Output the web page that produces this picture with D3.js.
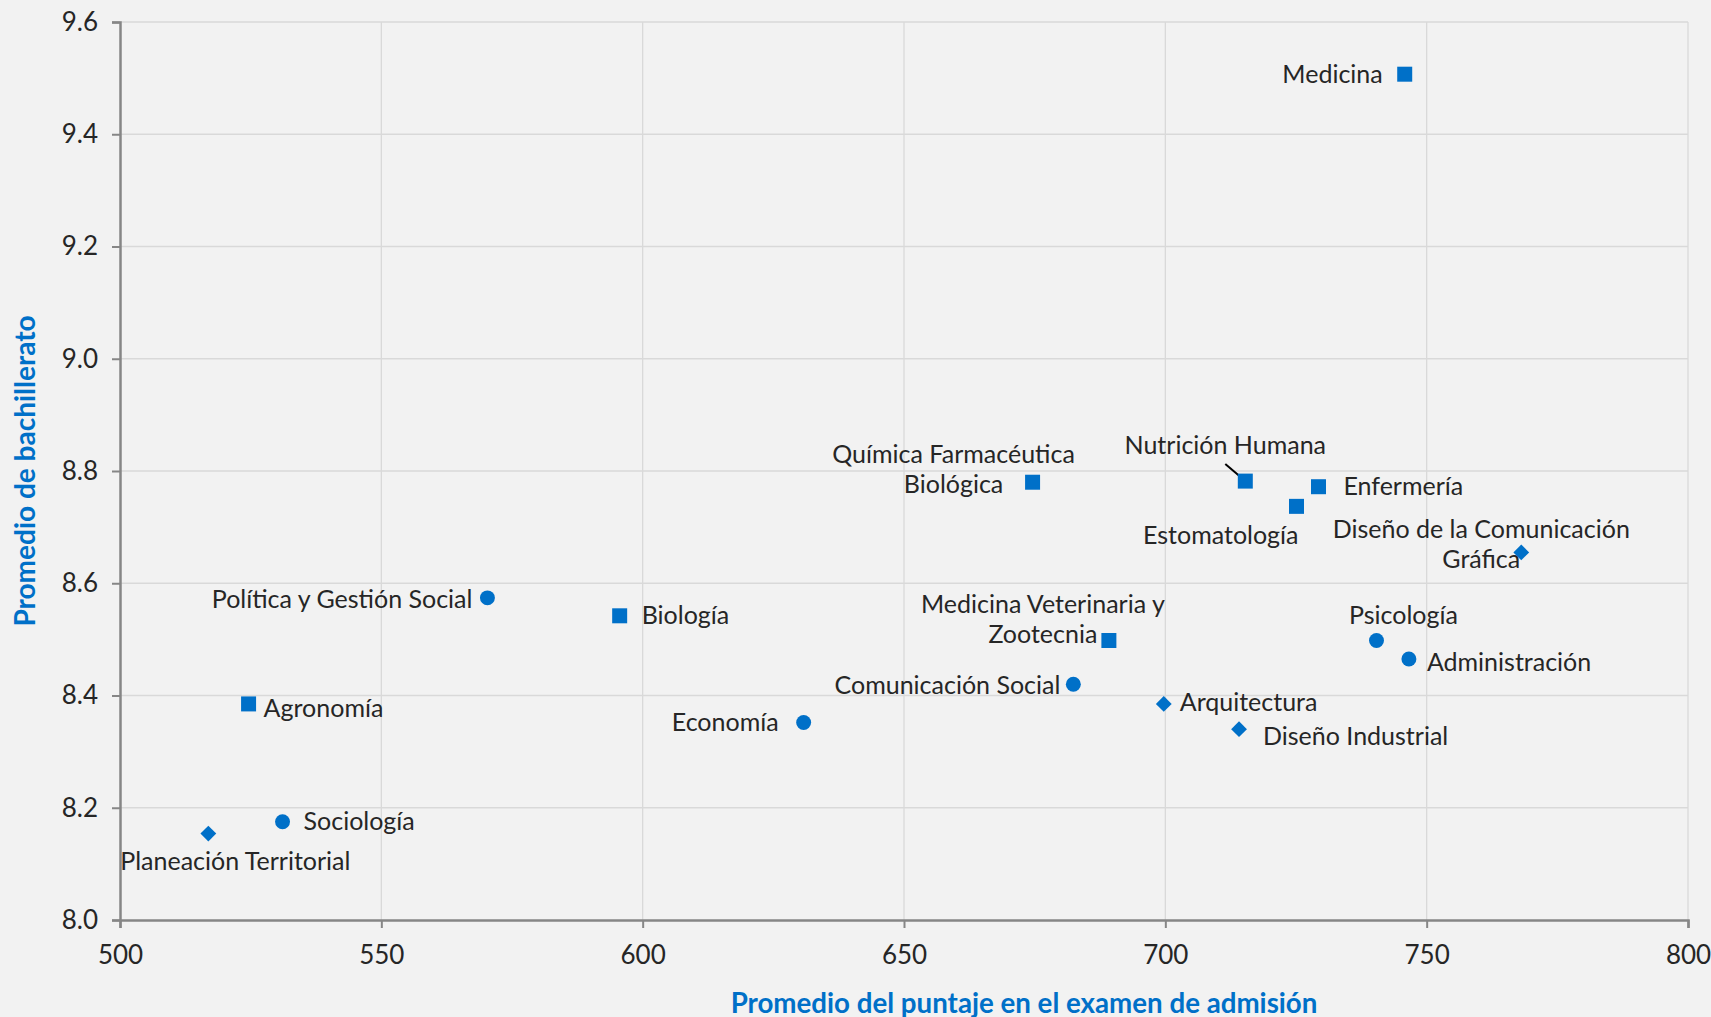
<!DOCTYPE html>
<html>
<head>
<meta charset="utf-8">
<script src="https://cdn.jsdelivr.net/npm/d3@7"></script>
<style>
    html, body { margin: 0; padding: 0; background: #f2f2f2; }
    svg { display: block; }
    text { font-family: Lato, "Open Sans", sans-serif; }
</style>
</head>
<body>
<div class="visualizer"></div>
<script>
// Data: three groups of degree programmes (square, circle, diamond markers)
const squareNames = ["Medicina", "Nutrición Humana", "Enfermería", "Estomatología",
    "Química Farmacéutica Biológica", "Biología", "Medicina Veterinaria y Zootecnia", "Agronomía"];
const squareX = [745.8, 715.3, 729.3, 725.1, 674.6, 595.6, 689.2, 524.6];
const squareY = [9.507, 8.782, 8.772, 8.737, 8.780, 8.542, 8.498, 8.385];

const circleNames = ["Política y Gestión Social", "Psicología", "Administración",
    "Comunicación Social", "Economía", "Sociología"];
const circleX = [570.3, 740.4, 746.6, 682.4, 630.8, 531.1];
const circleY = [8.574, 8.498, 8.465, 8.420, 8.352, 8.175];

const diamondNames = ["Diseño de la Comunicación Gráfica", "Arquitectura", "Diseño Industrial",
    "Planeación Territorial"];
const diamondX = [768.1, 699.7, 714.1, 516.9];
const diamondY = [8.655, 8.385, 8.340, 8.154];

const xTicks = [500, 550, 600, 650, 700, 750, 800];
const yTicks = [8.0, 8.2, 8.4, 8.6, 8.8, 9.0, 9.2, 9.4, 9.6];

const xTitle = "Promedio del puntaje en el examen de admisión";
const yTitle = "Promedio de bachillerato";

// label placement (lines, anchor, offset from marker in px)
const labelLayout = {
    "Medicina": { lines: ["Medicina"], anchor: "end", dx: -22, dy: -1 },
    "Nutrición Humana": { lines: ["Nutrición Humana"], anchor: "middle", dx: -20, dy: -37, leader: true },
    "Enfermería": { lines: ["Enfermería"], anchor: "start", dx: 25, dy: -2 },
    "Estomatología": { lines: ["Estomatología"], anchor: "end", dx: 2, dy: 28 },
    "Química Farmacéutica Biológica": { lines: ["Química Farmacéutica", "Biológica"], anchor: "middle", dx: -79, dy: -29 },
    "Biología": { lines: ["Biología"], anchor: "start", dx: 22, dy: -2 },
    "Medicina Veterinaria y Zootecnia": { lines: ["Medicina Veterinaria y", "Zootecnia"], anchor: "middle", dx: -66, dy: -37 },
    "Agronomía": { lines: ["Agronomía"], anchor: "start", dx: 15, dy: 3 },
    "Política y Gestión Social": { lines: ["Política y Gestión Social"], anchor: "end", dx: -15, dy: 0 },
    "Psicología": { lines: ["Psicología"], anchor: "middle", dx: 27, dy: -26 },
    "Administración": { lines: ["Administración"], anchor: "start", dx: 18, dy: 2 },
    "Comunicación Social": { lines: ["Comunicación Social"], anchor: "end", dx: -13, dy: 0 },
    "Economía": { lines: ["Economía"], anchor: "end", dx: -25, dy: -1 },
    "Sociología": { lines: ["Sociología"], anchor: "start", dx: 21, dy: -2 },
    "Diseño de la Comunicación Gráfica": { lines: ["Diseño de la Comunicación", "Gráfica"], anchor: "middle", dx: -40, dy: -24 },
    "Arquitectura": { lines: ["Arquitectura"], anchor: "start", dx: 16, dy: -3 },
    "Diseño Industrial": { lines: ["Diseño Industrial"], anchor: "start", dx: 24, dy: 6 },
    "Planeación Territorial": { lines: ["Planeación Territorial"], anchor: "middle", dx: 27, dy: 26 }
};

function onDOMContentLoaded() {
    const width = 1711, height = 1017;
    const margin = { top: 22, right: 23, bottom: 97, left: 120 };
    const blue = "#0070C8";
    const lineHeight = 30;

    const svg = d3.select(".visualizer")
        .append("svg")
        .attr("width", width)
        .attr("height", height);

    svg.append("rect")
        .attr("width", width)
        .attr("height", height)
        .attr("fill", "#f2f2f2");

    const xScale = d3.scaleLinear()
        .domain([500, 800])
        .range([margin.left, width - margin.right]);
    const yScale = d3.scaleLinear()
        .domain([8.0, 9.6])
        .range([height - margin.bottom, margin.top]);

    // gridlines
    svg.append("g")
        .selectAll("line")
        .data(xTicks.slice(1))
        .enter()
        .append("line")
        .attr("x1", d => xScale(d)).attr("x2", d => xScale(d))
        .attr("y1", yScale(8.0)).attr("y2", yScale(9.6))
        .attr("stroke", "#d9d9d9")
        .attr("stroke-width", 1.3);
    svg.append("g")
        .selectAll("line")
        .data(yTicks.slice(1))
        .enter()
        .append("line")
        .attr("x1", xScale(500)).attr("x2", xScale(800))
        .attr("y1", d => yScale(d)).attr("y2", d => yScale(d))
        .attr("stroke", "#d9d9d9")
        .attr("stroke-width", 1.3);

    // axes
    const xAxis = d3.axisBottom(xScale)
        .tickValues(xTicks)
        .tickSize(8)
        .tickPadding(18)
        .tickFormat(d3.format("d"));
    const gx = svg.append("g")
        .attr("id", "x-axis")
        .attr("transform", `translate(0, ${ yScale(8.0) })`)
        .call(xAxis);

    const yAxis = d3.axisLeft(yScale)
        .tickValues(yTicks)
        .tickSize(8)
        .tickPadding(14)
        .tickFormat(d3.format(".1f"));
    const gy = svg.append("g")
        .attr("id", "y-axis")
        .attr("transform", `translate(${ xScale(500) }, 0)`)
        .call(yAxis);

    [gx, gy].forEach(g => {
        g.select(".domain").attr("stroke", "#868686").attr("stroke-width", 2.5);
        g.selectAll(".tick line").attr("stroke", "#868686").attr("stroke-width", 2);
        g.selectAll(".tick text")
            .attr("fill", "#262626")
            .style("font-size", "26px")
            .style("font-family", "Lato, sans-serif");
    });
    gx.selectAll(".tick text").attr("dy", "0.71em");

    // axis titles
    svg.append("text")
        .attr("x", 1024)
        .attr("y", 1002)
        .attr("text-anchor", "middle")
        .attr("dominant-baseline", "central")
        .attr("fill", blue)
        .style("font-size", "27.7px")
        .style("font-weight", "bold")
        .text(xTitle);

    svg.append("text")
        .attr("transform", `translate(24, ${ yScale(8.8) }) rotate(-90)`)
        .attr("text-anchor", "middle")
        .attr("dominant-baseline", "central")
        .attr("fill", blue)
        .style("font-size", "28px")
        .style("font-weight", "bold")
        .text(yTitle);

    // build point rows from the arrays
    const toRows = (names, xs, ys, shape) => names.map((name, i) => ({ name, x: xs[i], y: ys[i], shape }));
    const points = [
        ...toRows(squareNames, squareX, squareY, "square"),
        ...toRows(circleNames, circleX, circleY, "circle"),
        ...toRows(diamondNames, diamondX, diamondY, "diamond")
    ];

    const symbolFor = {
        square: d3.symbol().type(d3.symbolSquare).size(225),
        circle: d3.symbol().type(d3.symbolCircle).size(175),
        diamond: d3.symbol().type(d3.symbolSquare).size(125)
    };

    // leader line for Nutrición Humana
    points.filter(p => labelLayout[p.name].leader).forEach(p => {
        const px = xScale(p.x), py = yScale(p.y);
        svg.append("line")
            .attr("x1", px - 20).attr("y1", py - 17)
            .attr("x2", px).attr("y2", py)
            .attr("stroke", "#000")
            .attr("stroke-width", 2);
    });

    svg.append("g")
        .selectAll("path")
        .data(points)
        .enter()
        .append("path")
        .attr("d", d => symbolFor[d.shape]())
        .attr("transform", d => `translate(${ xScale(d.x) }, ${ yScale(d.y) })` + (d.shape === "diamond" ? " rotate(45)" : ""))
        .attr("fill", blue);

    // labels
    const labels = svg.append("g")
        .selectAll("text")
        .data(points)
        .enter()
        .append("text")
        .attr("text-anchor", d => labelLayout[d.name].anchor)
        .attr("fill", "#262626")
        .style("font-size", "25px");

    labels.selectAll("tspan")
        .data(d => labelLayout[d.name].lines.map((line, i) => ({ line, i, d })))
        .enter()
        .append("tspan")
        .attr("x", t => xScale(t.d.x) + labelLayout[t.d.name].dx)
        .attr("y", t => yScale(t.d.y) + labelLayout[t.d.name].dy + t.i * lineHeight)
        .attr("dominant-baseline", "central")
        .text(t => t.line);
}

document.addEventListener("DOMContentLoaded", onDOMContentLoaded);
</script>
</body>
</html>
